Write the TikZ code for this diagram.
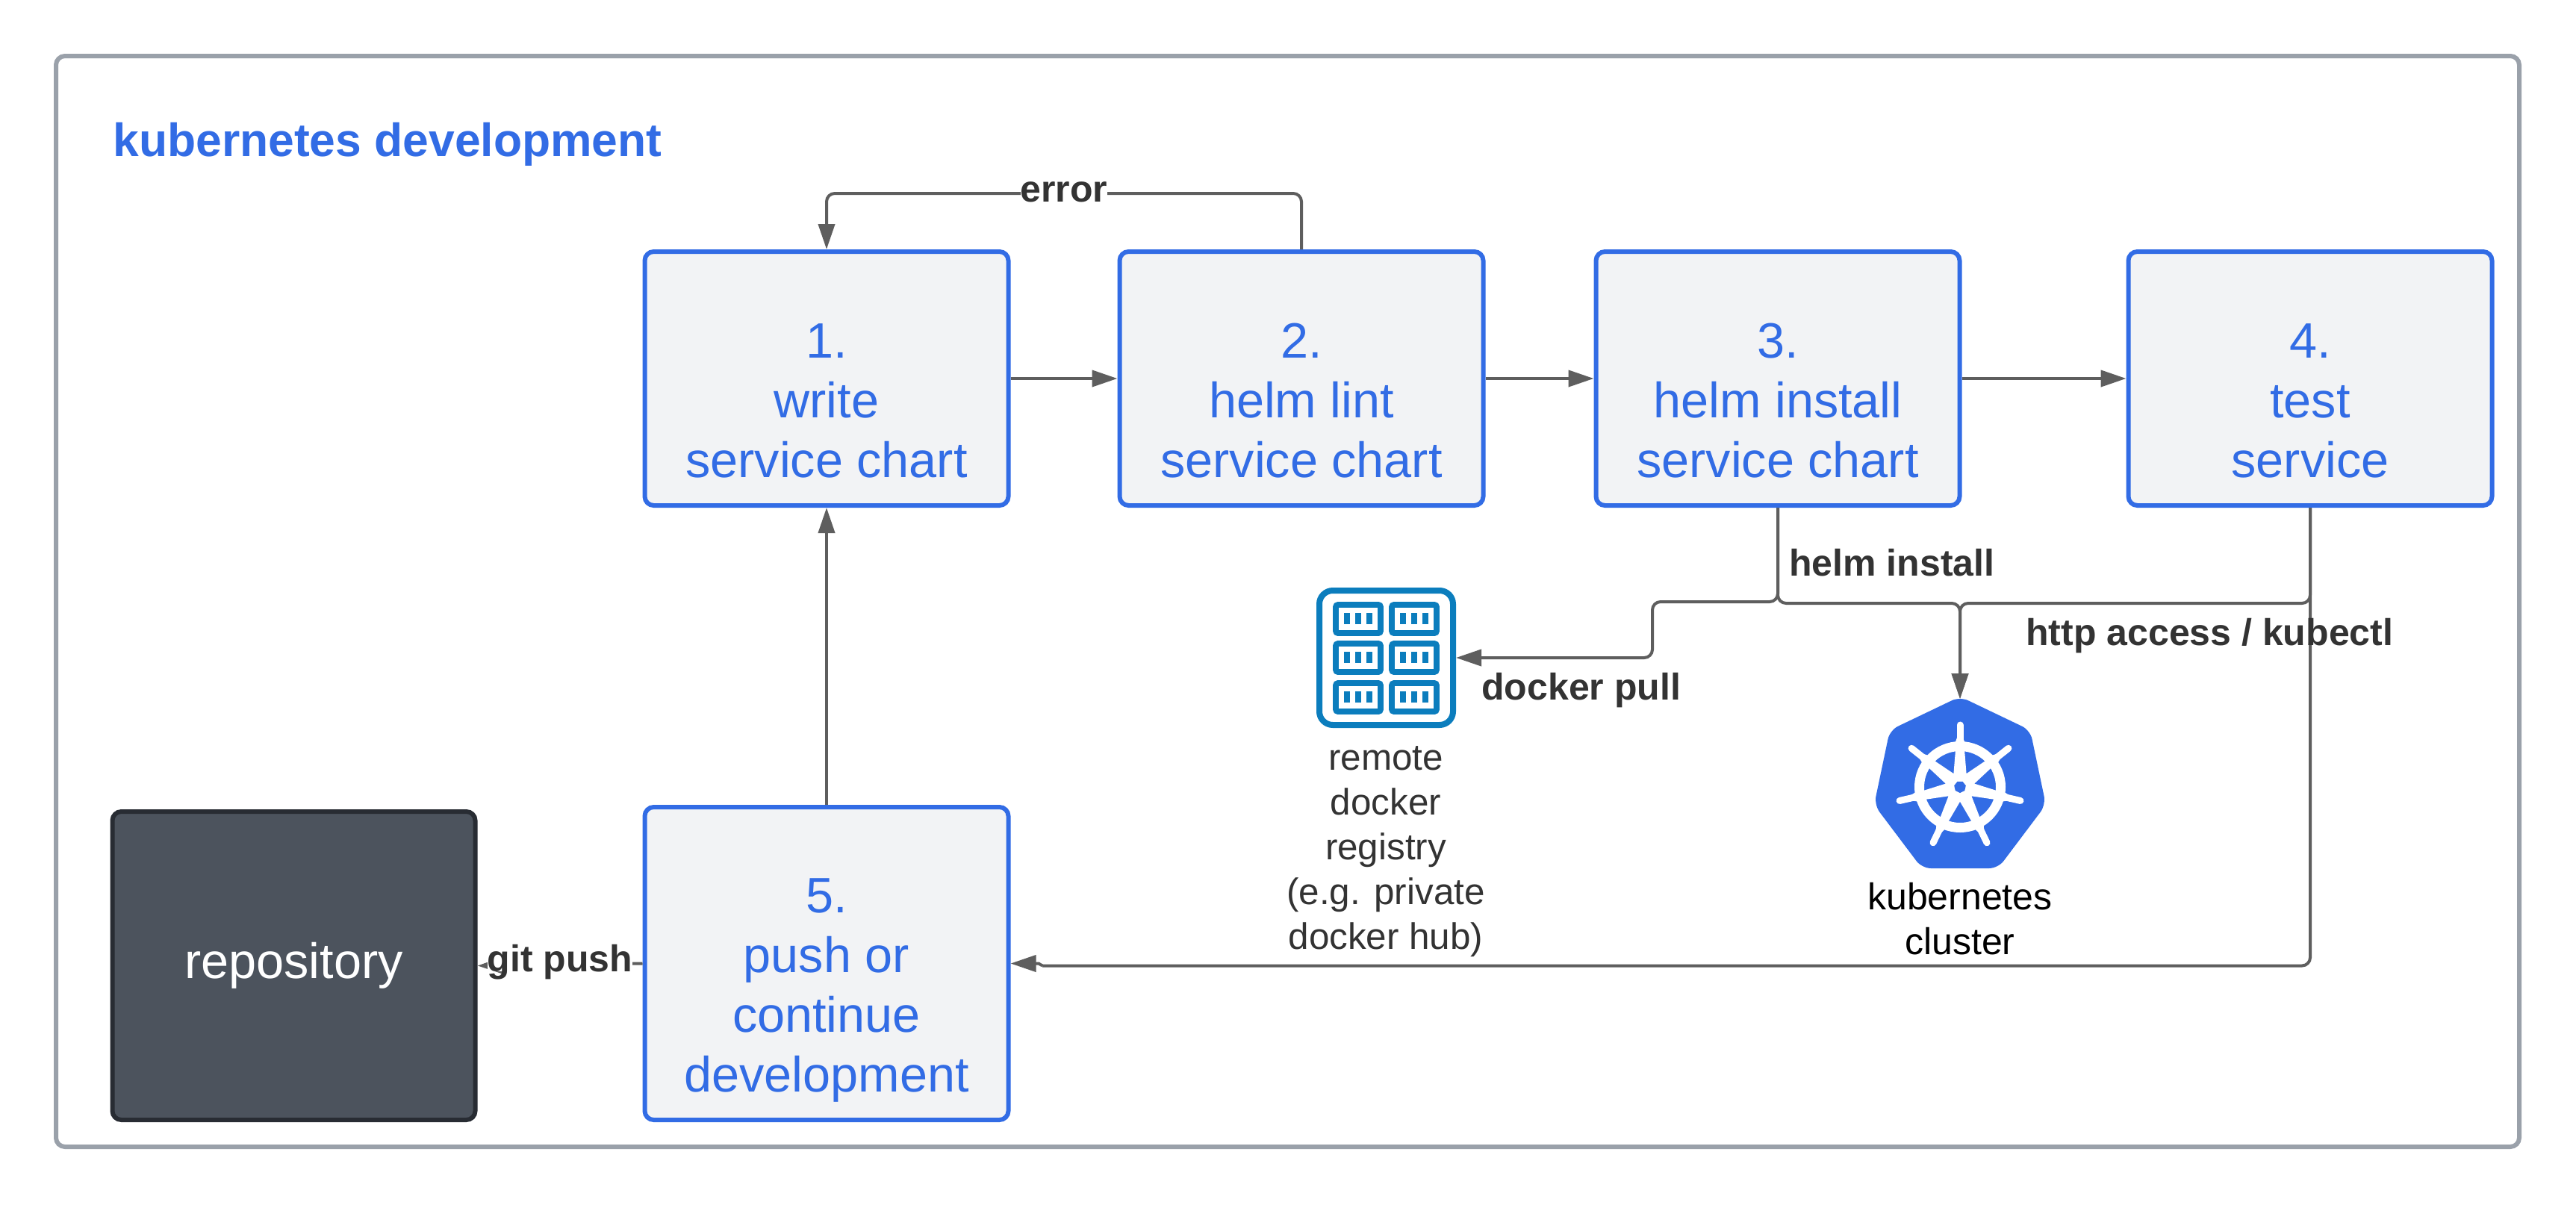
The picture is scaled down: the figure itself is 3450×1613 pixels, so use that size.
\documentclass[tikz,border=0pt]{standalone}
\usepackage{fontspec}
\setmainfont{Liberation Sans}
\usetikzlibrary{arrows.meta}
\definecolor{kblue}{HTML}{326CE5}
\definecolor{boxfill}{HTML}{F2F3F5}
\definecolor{framegray}{HTML}{9AA1AA}
\definecolor{conngray}{HTML}{5E5E5E}
\definecolor{labelgray}{HTML}{333333}
\definecolor{repofill}{HTML}{4C535D}
\definecolor{repoedge}{HTML}{282C33}
\definecolor{regblue}{HTML}{0B7DBD}
\newcommand{\boxlift}[1]{\rule{0pt}{#1}}
\tikzset{
  stepbox/.style={draw=kblue,fill=boxfill,line width=3pt,rounded corners=6pt,
    minimum width=243.5pt,minimum height=170pt,inner sep=0pt,align=center,text=kblue,
    font=\fontsize{33.3}{40}\selectfont},
  conn/.style={draw=conngray,line width=2pt,rounded corners=5.5pt},
  tip/.style={-{Triangle[length=17pt,width=11pt,fill=conngray]}},
  edgelabel/.style={inner sep=0pt,text=labelgray,font=\fontsize{25}{30}\selectfont\bfseries},
  caption/.style={inner sep=0pt,align=center,font=\fontsize{25}{30}\selectfont},
  cell/.style={draw=regblue,line width=3.9pt,rounded corners=1.5pt},
  cellbar/.style={fill=regblue},
}
\begin{document}
\begin{tikzpicture}[x=0.5pt,y=-0.5pt]
\useasboundingbox (0,0) rectangle (3450,1613);
\fill[white] (0,0) rectangle (3450,1613);
\draw[framegray,line width=3pt,rounded corners=6pt] (75,75) rectangle (3374,1536);
\node[inner sep=0pt,anchor=base west,text=kblue,font=\fontsize{31.2}{37}\selectfont\bfseries] (title) at (151,209) {kubernetes development};

\node[stepbox] (box1) at (1107,507) {\boxlift{64.8pt}1.\\write\\service chart\strut};
\node[stepbox] (box2) at (1743,507) {\boxlift{64.8pt}2.\\helm lint\\service chart\strut};
\node[stepbox] (box3) at (2381,507) {\boxlift{64.8pt}3.\\helm install\\service chart\strut};
\node[stepbox] (box4) at (3094,507) {\boxlift{64.8pt}4.\\test\\service\strut};
\node[stepbox,minimum height=209.5pt] (box5) at (1107,1290.5) {\boxlift{64.3pt}5.\\push or\\continue\\development\strut};
\node[draw=repoedge,fill=repofill,line width=3pt,rounded corners=6pt,minimum width=243pt,minimum height=206.5pt,inner sep=0pt,text=white,font=\fontsize{33.3}{40}\selectfont] (repo) at (393.5,1293.5) {repository};

% registry icon
\node[draw=regblue,line width=4pt,rounded corners=9pt,minimum width=89.5pt,minimum height=90pt,inner sep=0pt] (registry) at (1856.5,881) {};
\foreach \cx in {1789,1864} {
  \foreach \cy in {810,862,915} {
    \draw[cell] (\cx,\cy) rectangle +(60,38);
    \fill[cellbar] (\cx+11,\cy+11) rectangle +(8,15);
    \fill[cellbar] (\cx+26,\cy+11) rectangle +(8,15);
    \fill[cellbar] (\cx+41,\cy+11) rectangle +(8,15);
  }
}

% kubernetes logo
\coordinate (cluster) at (2625,936);
\fill[kblue,rounded corners=6pt] (2625,933) -- (2719,978) -- (2740,1078) -- (2676,1163) -- (2574,1163) -- (2510,1078) -- (2531,978) -- cycle;
\begin{scope}[shift={(2625,1054)},x=0.5pt,y=0.5pt]
  \draw[white,line width=6.5pt] (0,0) circle (54.5);
  \foreach \a in {90,38.57,-12.86,-64.29,-115.71,-167.14,141.43} {
    \begin{scope}[rotate=\a]
      \fill[white] (0,-10) -- (56,-5.5) -- (56,5.5) -- (0,10) -- cycle;
      \draw[white,line width=4.5pt,line cap=round] (58,0) -- (83,0);
      \fill[white] (58,-7) -- (66,-4) -- (66,4) -- (58,7) -- cycle;
    \end{scope}
  }
  \fill[white] (0,0) circle (20);
  \fill[kblue] (115.7:8) -- (64.3:8) -- (12.9:8) -- (-38.6:8) -- (-90:8) -- (-141.4:8) -- (167.1:8) -- cycle;
\end{scope}

\node[caption,text=labelgray,font=\fontsize{24.7}{30}\selectfont] (regtext) at (1856,1139) {\strut remote\\\strut docker\\\strut registry\\\strut (e.g. private\\\strut docker hub)};
\node[caption,text=black] (clustertext) at (2625,1236) {\strut kubernetes\\\strut cluster};

% connectors
\coordinate (errbend) at (1425,259);
\draw[conn,tip] (box2.north) |- (errbend) -| (box1.north);
\draw[conn,tip] (box1.east) -- (box2.west);
\draw[conn,tip] (box2.east) -- (box3.west);
\draw[conn,tip] (box3.east) -- (box4.west);
\draw[conn,tip] (box5.north) -- (box1.south);
\coordinate (pullbend) at (2213,806);
\coordinate (pullend) at (2213,881);
\draw[conn,tip] (box3.south) |- (pullbend) -- (pullend) -- (registry.east |- pullend);
\coordinate (joinbar) at (2625,808);
\draw[conn,tip] (box3.south) |- (joinbar) -- (cluster);
\draw[conn,tip] (box4.south) |- (joinbar) -- (cluster);
\coordinate (backcorner) at (3094,1293.5);
\coordinate (jogr) at (1396,1293.5);
\coordinate (jogl) at (1391,1290.5);
\draw[conn,rounded corners=5.5pt] (box4.south) -- (backcorner) -- (jogr);
\draw[conn,tip,rounded corners=0pt] (jogr) -- (jogl) -- (box5.east);
\draw[conn,tip] (box5.west) -- (repo.east);

% labels
\node[edgelabel,fill=white] (errlabel) at (1425,257) {error};
\node[edgelabel,anchor=base west] (helmlabel) at (2396,771) {helm install};
\node[edgelabel,anchor=base west] (httplabel) at (2713,864) {http access / kubectl};
\node[edgelabel,anchor=base west] (pulllabel) at (1984,937) {docker pull};
\node[edgelabel,fill=white,anchor=base,text depth=0pt] (gitlabel) at (750,1301) {git push};
\end{tikzpicture}
\end{document}
